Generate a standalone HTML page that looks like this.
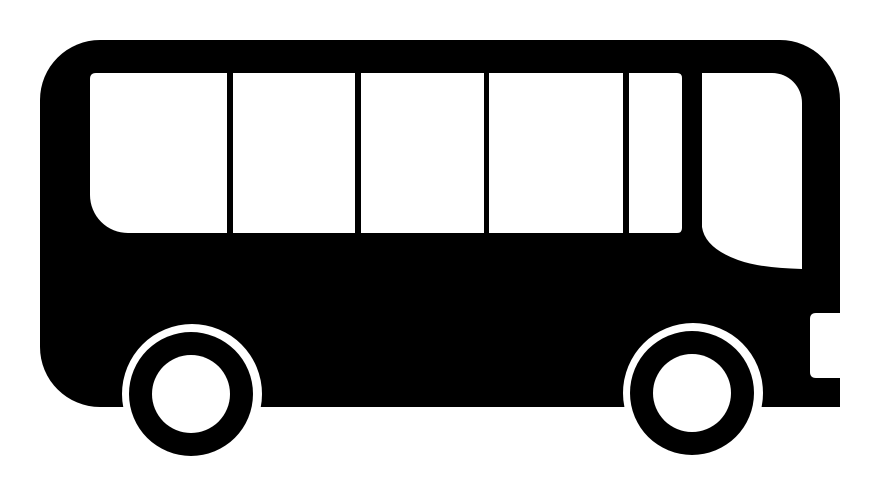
<!DOCTYPE html>
<html><head><style>html,body{margin:0;padding:0;background:#fff;}svg{display:block}</style></head>
<body>
<svg width="880" height="499" viewBox="0 0 880 499" xmlns="http://www.w3.org/2000/svg">
<path d="M40,100 A60,60 0 0 1 100,40 L780,40 A60,60 0 0 1 840,100 L840,407 L100,407 A60,60 0 0 1 40,347 Z" fill="#000"/>
<path d="M840,313 L816,313 Q810,313 810,319 L810,372 Q810,378 816,378 L840,378 Z" fill="#fff"/>
<path d="M96,73 L227,73 L227,233 L128,233 A38,38 0 0 1 90,195 L90,79 Q90,73 96,73 Z" fill="#fff"/>
<rect x="233" y="73" width="122" height="160" fill="#fff"/>
<rect x="361" y="73" width="123" height="160" fill="#fff"/>
<rect x="489" y="73" width="134" height="160" fill="#fff"/>
<path d="M629,73 L677,73 Q682,73 682,78 L682,228 Q682,233 677,233 L629,233 Z" fill="#fff"/>
<path d="M702,73 L772,73 A30,30 0 0 1 802,103 L802,269 Q760,268 738,260 Q705,248 702,227 Z" fill="#fff"/>
<circle cx="192" cy="394" r="70" fill="#fff"/>
<circle cx="191" cy="394" r="62" fill="#000"/>
<circle cx="191" cy="394" r="39" fill="#fff"/>
<circle cx="693" cy="393" r="70" fill="#fff"/>
<circle cx="692" cy="393" r="62" fill="#000"/>
<circle cx="692" cy="393" r="39" fill="#fff"/>
</svg>
</body></html>
